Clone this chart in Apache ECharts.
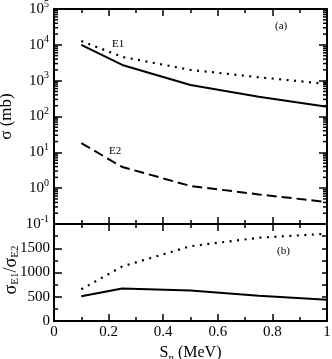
<!DOCTYPE html>
<html><head><meta charset="utf-8">
<script src="https://cdn.jsdelivr.net/npm/echarts@6/dist/echarts.min.js"></script>
<style>html,body{margin:0;padding:0;background:#fff}#c{width:332px;height:359px}</style>
</head><body><div id="c"></div>
<script>
const snValues = [0.1, 0.25, 0.5, 0.75, 1.0];
const e1Solid = [10000, 2750, 760, 357, 188];
const e1Dotted = [12800, 4600, 2000, 1245, 810];
const e2Dashed = [18, 3.9, 1.15, 0.67, 0.41];
const ratioSolid = [510, 670, 630, 520, 440];
const ratioDotted = [654, 1125, 1542, 1717, 1800];
const xTickLabels = ['0', '0.2', '0.4', '0.6', '0.8', '1'];
const logDecades = [-1, 0, 1, 2, 3, 4];

const FONT = 'Liberation Serif';
const minorLog = [];
logDecades.forEach(function (e) { for (let m = 2; m <= 9; m++) minorLog.push(m * Math.pow(10, e)); });

const chart = echarts.init(document.getElementById('c'));
const axLine = { show: true, onZero: false, lineStyle: { color: '#000', width: 2 } };
const tickX = { show: true, inside: true, length: 7, lineStyle: { color: '#000', width: 1.5 } };
const minorX = { show: true, splitNumber: 2, length: 4, lineStyle: { color: '#000', width: 1.5 } };
function pair(d) { return snValues.map(function (x, i) { return [x, d[i]]; }); }

const option = {
  animation: false,
  backgroundColor: '#fff',
  grid: [
    { left: 54, right: 5, top: 9, height: 215, containLabel: false, outerBoundsMode: 'none' },
    { left: 54, right: 5, top: 224, height: 97, containLabel: false, outerBoundsMode: 'none' }
  ],
  xAxis: [
    { gridIndex: 0, type: 'value', min: 0, max: 1, interval: 0.2, position: 'bottom', axisLine: axLine, axisTick: tickX, minorTick: minorX, axisLabel: { show: false }, splitLine: { show: false } },
    { gridIndex: 0, type: 'value', min: 0, max: 1, interval: 0.2, position: 'top', axisLine: axLine, axisTick: tickX, minorTick: minorX, axisLabel: { show: false }, splitLine: { show: false } },
    { gridIndex: 1, type: 'value', min: 0, max: 1, interval: 0.2, position: 'bottom', axisLine: axLine, axisTick: tickX, minorTick: minorX, splitLine: { show: false },
      axisLabel: { show: true, color: '#000', fontFamily: FONT, fontSize: 15, margin: 4,
        formatter: function (v) { return xTickLabels[Math.round(v / 0.2)]; } },
      name: 'S{sub|n} (MeV)', nameLocation: 'middle', nameGap: 20,
      nameTextStyle: { color: '#000', fontFamily: FONT, fontSize: 16,
        rich: { sub: { fontFamily: FONT, fontSize: 11, verticalAlign: 'bottom', padding: [12, 0, 0, 0], color: '#000' } } } },
    { gridIndex: 1, type: 'value', min: 0, max: 1, interval: 0.2, position: 'top', axisLine: axLine, axisTick: tickX, minorTick: minorX, axisLabel: { show: false }, splitLine: { show: false } }
  ],
  yAxis: [
    { gridIndex: 0, type: 'log', logBase: 10, min: 0.1, max: 100000, position: 'left', axisLine: axLine,
      axisTick: { show: true, inside: true, length: 8, lineStyle: { color: '#000', width: 1.5 } }, splitLine: { show: false },
      axisLabel: { show: true, color: '#000', fontFamily: FONT, fontSize: 15, margin: 5,
        formatter: function (v) { const e = Math.round(Math.log10(v)); return '10{sup|' + e + '}'; },
        rich: { sup: { fontFamily: FONT, fontSize: 10, verticalAlign: 'top', padding: [0, 0, 10, 0], color: '#000' } } },
      name: 'σ (mb)', nameLocation: 'middle', nameGap: 36, nameTextStyle: { color: '#000', fontFamily: FONT, fontSize: 17 } },
    { gridIndex: 0, type: 'log', logBase: 10, min: 0.1, max: 100000, position: 'right', axisLine: axLine,
      axisTick: { show: true, inside: true, length: 8, lineStyle: { color: '#000', width: 1.5 } }, splitLine: { show: false }, axisLabel: { show: false } },
    { gridIndex: 1, type: 'value', min: 0, max: 2000, interval: 500, position: 'left', axisLine: axLine,
      axisTick: { show: true, inside: true, length: 8, lineStyle: { color: '#000', width: 1.5 } },
      minorTick: { show: true, splitNumber: 2, length: 4, lineStyle: { color: '#000', width: 1.5 } }, splitLine: { show: false },
      axisLabel: { show: true, showMaxLabel: false, color: '#000', fontFamily: FONT, fontSize: 15, margin: 4,
        formatter: function (v) { return String(v); } } },
    { gridIndex: 1, type: 'value', min: 0, max: 2000, interval: 500, position: 'right', axisLine: axLine,
      axisTick: { show: true, inside: true, length: 5, lineStyle: { color: '#000', width: 1.5 } },
      minorTick: { show: true, splitNumber: 2, length: 5, lineStyle: { color: '#000', width: 1.5 } }, splitLine: { show: false }, axisLabel: { show: false } }
  ],
  series: [
    { name: 'E1', type: 'line', xAxisIndex: 0, yAxisIndex: 0, data: pair(e1Solid), showSymbol: false, symbol: 'none', lineStyle: { color: '#000', width: 2, type: 'solid' } },
    { name: 'E1 dotted', type: 'line', xAxisIndex: 0, yAxisIndex: 0, data: pair(e1Dotted), showSymbol: false, symbol: 'none', lineStyle: { color: '#000', width: 2.2, type: [2, 5.5] } },
    { name: 'E2', type: 'line', xAxisIndex: 0, yAxisIndex: 0, data: pair(e2Dashed), showSymbol: false, symbol: 'none', lineStyle: { color: '#000', width: 2, type: [10, 5] } },
    { name: 'ratio', type: 'line', xAxisIndex: 2, yAxisIndex: 2, data: pair(ratioSolid), showSymbol: false, symbol: 'none', lineStyle: { color: '#000', width: 2, type: 'solid' } },
    { name: 'ratio dotted', type: 'line', xAxisIndex: 2, yAxisIndex: 2, data: pair(ratioDotted), showSymbol: false, symbol: 'none', lineStyle: { color: '#000', width: 2.2, type: [2, 5.5] } },
    { name: 'minor log ticks', type: 'custom', xAxisIndex: 0, yAxisIndex: 0, clip: false, silent: true,
      data: minorLog.map(function (v) { return [0, v]; }),
      renderItem: function (params, api) {
        const v = api.value(1);
        const pL = api.coord([0, v]);
        const pR = api.coord([1, v]);
        const st = { stroke: '#000', lineWidth: 1.5 };
        return { type: 'group', children: [
          { type: 'line', shape: { x1: pL[0], y1: pL[1], x2: pL[0] + 4, y2: pL[1] }, style: st },
          { type: 'line', shape: { x1: pR[0] - 4, y1: pR[1], x2: pR[0], y2: pR[1] }, style: st }
        ] };
      } }
  ],
  graphic: [
    { type: 'text', x: 11, y: 270, rotation: Math.PI / 2,
      style: { text: 'σ{sub|E1}/σ{sub|E2}', align: 'center', verticalAlign: 'middle', fill: '#000',
        font: '18px "Liberation Serif"',
        rich: { sub: { fontFamily: FONT, fontSize: 11, verticalAlign: 'bottom', padding: [8, 0, 0, 0], fill: '#000' } } } },
    { type: 'text', left: 112, top: 39, style: { text: 'E1', font: '11px "Liberation Serif"', fill: '#000' } },
    { type: 'text', left: 109, top: 146, style: { text: 'E2', font: '11px "Liberation Serif"', fill: '#000' } },
    { type: 'text', left: 275, top: 21, style: { text: '(a)', font: '11px "Liberation Serif"', fill: '#000' } },
    { type: 'text', left: 277, top: 246, style: { text: '(b)', font: '11px "Liberation Serif"', fill: '#000' } }
  ]
};
chart.setOption(option);
</script></body></html>
